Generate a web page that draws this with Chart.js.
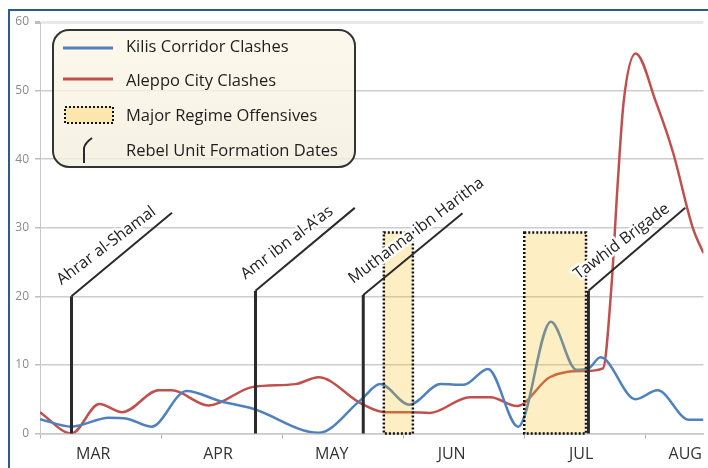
<!DOCTYPE html>
<html>
<head>
<meta charset="utf-8">
<script src="https://cdn.jsdelivr.net/npm/chart.js@4.4.1/dist/chart.umd.min.js"></script>
<style>
html, body { margin: 0; padding: 0; background: #fff; overflow: hidden; }
#wrap { position: relative; width: 708px; height: 468px; }
#frame { position: absolute; left: 8px; top: 9px; width: 720px; height: 480px;
  border-left: 2px solid #2b5b86; border-top: 2px solid #2b5b86; pointer-events: none; }
</style>
</head>
<body>
<div id="wrap">
  <canvas id="chart" width="708" height="468" style="width:708px;height:468px"></canvas>
  <div id="frame"></div>
</div>
<script>
// x is measured in months from the start of March (0 = 1 Mar, 1 = 1 Apr ...)
const months = ['MAR', 'APR', 'MAY', 'JUN', 'JUL', 'AUG'];
const monthBounds = [0, 1, 2, 3, 4, 5];
const monthLabelPos = [0.44, 1.47, 2.41, 3.40, 4.47, 5.33];

const kilisX = [0, 0.26, 0.57, 0.71, 0.92, 1.21, 1.49, 1.76, 2.30, 2.65, 2.81, 3.05, 3.31, 3.50, 3.70, 3.95, 4.22, 4.43, 4.53, 4.63, 4.92, 5.10, 5.36, 5.48];
const kilisY = [2.1, 1.0, 2.3, 2.2, 1.0, 6.2, 4.7, 3.6, 0.1, 4.9, 7.2, 4.2, 7.2, 7.1, 9.4, 1.0, 16.3, 9.3, 9.5, 11.1, 5.0, 6.3, 2.0, 2.0];

const aleppoX = [0, 0.26, 0.49, 0.68, 0.98, 1.09, 1.39, 1.76, 2.11, 2.30, 2.65, 2.85, 3.06, 3.22, 3.55, 3.72, 3.94, 4.21, 4.49, 4.65, 4.72, 4.77, 4.82, 4.92, 5.09, 5.23, 5.39, 5.48];
const aleppoY = [3.1, 0, 4.3, 3.1, 6.3, 6.3, 4.1, 6.8, 7.2, 8.2, 4.4, 3.1, 3.1, 3.0, 5.3, 5.3, 4.0, 8.2, 9.1, 9.5, 21.4, 36, 48.2, 55.4, 48.2, 40.9, 30.1, 26.3];

// Major regime offensives
const offensiveStart = [2.84, 4.00];
const offensiveEnd = [3.08, 4.51];
const offensiveTop = 29.3;

// Rebel unit formation dates
const unitNames = ['Ahrar al-Shamal', 'Amr ibn al-A\u2019as', 'Muthanna ibn Haritha', 'Tawhid Brigade'];
const unitDates = [0.26, 1.78, 2.67, 4.53];
const unitKnee = [20, 20.8, 20.2, 20.8];
const unitEndX = [1.09, 2.60, 3.49, 5.33];
const unitEndY = [32.2, 32.9, 32.1, 32.9];

const legendLabels = ['Kilis Corridor Clashes', 'Aleppo City Clashes', 'Major Regime Offensives', 'Rebel Unit Formation Dates'];

const BLUE = '#4f81bd';
const RED = '#c0504d';
const FONT = '"Open Sans", "DejaVu Sans", sans-serif';

function toPoints(xs, ys) {
    return xs.map((x, i) => ({ x: x, y: ys[i] }));
}

// Offensives boxes, formation lines and their labels
const overlayPlugin = {
    id: 'overlay',
    afterDatasetsDraw(chart) {
        const ctx = chart.ctx;
        const xs = chart.scales.x;
        const ys = chart.scales.y;

        // boxes (semi transparent, over the lines)
        ctx.save();
        for (let i = 0; i < offensiveStart.length; i++) {
            const x1 = xs.getPixelForValue(offensiveStart[i]);
            const x2 = xs.getPixelForValue(offensiveEnd[i]);
            const y1 = ys.getPixelForValue(offensiveTop);
            const y2 = ys.getPixelForValue(0);
            ctx.fillStyle = 'rgba(247, 187, 19, 0.25)';
            ctx.fillRect(x1, y1, x2 - x1, y2 - y1);
            ctx.setLineDash([2, 2]);
            ctx.lineWidth = 2.5;
            ctx.strokeStyle = '#111';
            ctx.strokeRect(x1, y1, x2 - x1, y2 - y1);
        }
        ctx.restore();

        // formation lines
        ctx.save();
        for (let i = 0; i < unitDates.length; i++) {
            const x0 = xs.getPixelForValue(unitDates[i]);
            const yb = ys.getPixelForValue(0);
            const yk = ys.getPixelForValue(unitKnee[i]);
            const xe = xs.getPixelForValue(unitEndX[i]);
            const ye = ys.getPixelForValue(unitEndY[i]);
            ctx.strokeStyle = '#2a2a2a';
            ctx.lineWidth = 3;
            ctx.beginPath();
            ctx.moveTo(x0, yb);
            ctx.lineTo(x0, yk);
            ctx.stroke();
            ctx.lineWidth = 2;
            ctx.beginPath();
            ctx.moveTo(x0, yk);
            ctx.lineTo(xe, ye);
            ctx.stroke();

            // label
            ctx.save();
            ctx.translate(x0 - 10, yk - 11);
            ctx.rotate(-37 * Math.PI / 180);
            ctx.font = '16px ' + FONT;
            ctx.textAlign = 'left';
            ctx.textBaseline = 'alphabetic';
            ctx.lineJoin = 'round';
            ctx.lineWidth = 5;
            ctx.strokeStyle = 'rgba(255,255,255,0.95)';
            ctx.strokeText(unitNames[i], 0, 0);
            ctx.fillStyle = '#222';
            ctx.fillText(unitNames[i], 0, 0);
            ctx.restore();
        }
        ctx.restore();
    },
    afterDraw(chart) {
        // legend box
        const ctx = chart.ctx;
        const L = 53, T = 30, R = 355, B = 167, r = 16;
        ctx.save();
        const grad = ctx.createLinearGradient(0, T, 0, B);
        grad.addColorStop(0, 'rgba(253, 247, 232, 0.82)');
        grad.addColorStop(1, 'rgba(243, 238, 222, 0.82)');
        ctx.beginPath();
        ctx.moveTo(L + r, T);
        ctx.arcTo(R, T, R, B, r);
        ctx.arcTo(R, B, L, B, r);
        ctx.arcTo(L, B, L, T, r);
        ctx.arcTo(L, T, R, T, r);
        ctx.closePath();
        ctx.fillStyle = grad;
        ctx.fill();
        ctx.lineWidth = 2;
        ctx.strokeStyle = '#333';
        ctx.stroke();

        const rows = [47, 81, 116, 151];
        // line samples
        ctx.lineWidth = 3;
        ctx.strokeStyle = BLUE;
        ctx.beginPath(); ctx.moveTo(63, 48); ctx.lineTo(113, 48); ctx.stroke();
        ctx.strokeStyle = RED;
        ctx.beginPath(); ctx.moveTo(63, 79); ctx.lineTo(113, 79); ctx.stroke();
        // box sample
        ctx.fillStyle = '#fbe6ad';
        ctx.fillRect(65, 107, 48, 16);
        ctx.setLineDash([2, 2]);
        ctx.lineWidth = 2;
        ctx.strokeStyle = '#111';
        ctx.strokeRect(65, 107, 48, 16);
        ctx.setLineDash([]);
        // formation sample
        ctx.strokeStyle = '#2a2a2a';
        ctx.lineWidth = 2;
        ctx.beginPath();
        ctx.moveTo(84, 163);
        ctx.lineTo(84, 148);
        ctx.quadraticCurveTo(85, 143, 92, 138);
        ctx.stroke();

        ctx.font = '16.5px ' + FONT;
        ctx.fillStyle = '#1e1e1e';
        ctx.textAlign = 'left';
        ctx.textBaseline = 'middle';
        legendLabels.forEach((t, i) => ctx.fillText(t, 126, rows[i]));
        ctx.restore();
    }
};

new Chart(document.getElementById('chart'), {
    type: 'line',
    data: {
        datasets: [
            {
                label: legendLabels[0],
                data: toPoints(kilisX, kilisY),
                borderColor: BLUE,
                borderWidth: 2.5,
                pointRadius: 0,
                cubicInterpolationMode: 'monotone',
                fill: false
            },
            {
                label: legendLabels[1],
                data: toPoints(aleppoX, aleppoY),
                borderColor: RED,
                borderWidth: 2.5,
                pointRadius: 0,
                cubicInterpolationMode: 'monotone',
                fill: false
            }
        ]
    },
    options: {
        responsive: false,
        animation: false,
        layout: { padding: { top: 22, right: 0, left: 0, bottom: 0 } },
        plugins: {
            legend: { display: false },
            tooltip: { enabled: false }
        },
        scales: {
            x: {
                type: 'linear',
                min: 0,
                max: 5.48,
                afterBuildTicks(scale) {
                    const vals = monthBounds.concat(monthLabelPos).sort((a, b) => a - b);
                    scale.ticks = vals.map(v => ({ value: v }));
                },
                afterFit(scale) { scale.height = 34.5; },
                ticks: {
                    autoSkip: false,
                    maxRotation: 0,
                    padding: 6,
                    color: '#333',
                    font: { family: FONT, size: 16 },
                    callback(value) {
                        const i = monthLabelPos.indexOf(value);
                        return i >= 0 ? months[i] : '';
                    }
                },
                grid: {
                    drawOnChartArea: false,
                    drawTicks: true,
                    tickLength: 5,
                    tickColor: (c) => monthBounds.includes(c.tick && c.tick.value) ? '#b5b5b5' : 'rgba(0,0,0,0)'
                },
                border: { display: true, color: '#c8c8c8', width: 1.5 }
            },
            y: {
                min: 0,
                max: 60,
                afterFit(scale) { scale.width = 40; },
                ticks: {
                    stepSize: 10,
                    padding: 6,
                    color: '#8a8a8a',
                    font: { family: FONT, size: 12 }
                },
                grid: {
                    color: (c) => c.tick && c.tick.value === 60 ? '#e8e8e8' : '#cdcdcd',
                    lineWidth: (c) => c.tick && c.tick.value === 60 ? 3 : 1.5,
                    tickLength: 5,
                    tickColor: '#bdbdbd'
                },
                border: { display: true, color: '#c8c8c8', width: 1 }
            }
        }
    },
    plugins: [overlayPlugin]
});
</script>
</body>
</html>
